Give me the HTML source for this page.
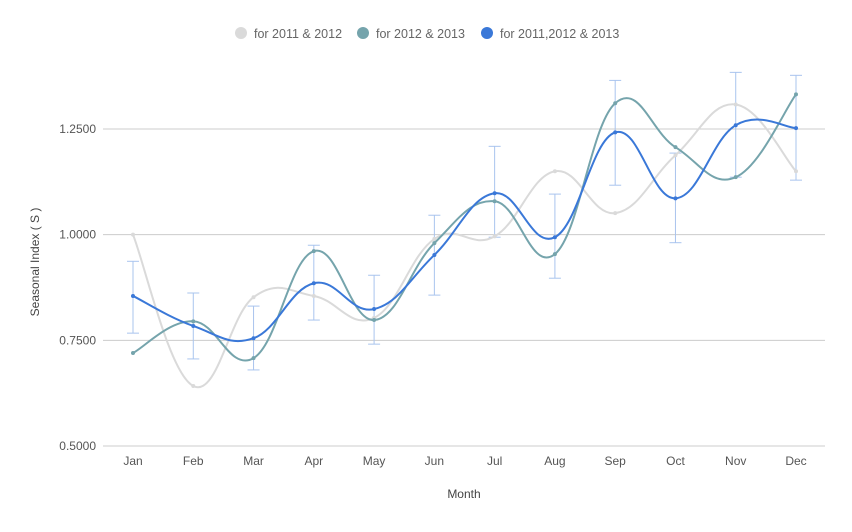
<!DOCTYPE html>
<html><head><meta charset="utf-8"><style>
body{margin:0;background:#fff;font-family:"Liberation Sans",Arial,sans-serif}
svg text{font-family:"Liberation Sans",Arial,sans-serif}
</style></head><body>
<svg id="chart" width="852" height="527" xmlns="http://www.w3.org/2000/svg">
<g id="grid"></g>
<g id="yticks"></g>
<g id="xticks"></g>
<g id="errs"></g>
<g id="series"></g>
<g>
<g><circle cx="241" cy="33" r="6" fill="#dadada"/><text x="254" y="38" font-size="12.5" fill="#666">for 2011 &amp; 2012</text></g>
<g><circle cx="363" cy="33" r="6" fill="#75a4ac"/><text x="376" y="38" font-size="12.5" fill="#666">for 2012 &amp; 2013</text></g>
<g><circle cx="487" cy="33" r="6" fill="#3a78d8"/><text x="500" y="38" font-size="12.5" fill="#666">for 2011,2012 &amp; 2013</text></g>
</g>
<text transform="translate(39,262) rotate(-90)" text-anchor="middle" font-size="12" fill="#444">Seasonal Index ( S )</text>
<text x="464" y="498" text-anchor="middle" font-size="12" fill="#444">Month</text>
</svg>
<script>
const months=["Jan","Feb","Mar","Apr","May","Jun","Jul","Aug","Sep","Oct","Nov","Dec"];
const yTicks=[0.5,0.75,1.0,1.25];
const s2011_2012=[1.0,0.642,0.852,0.855,0.803,0.99,0.996,1.15,1.051,1.188,1.308,1.15];
const s2012_2013=[0.72,0.795,0.708,0.961,0.798,0.98,1.079,0.954,1.311,1.207,1.136,1.332];
const sAll=[0.855,0.784,0.755,0.885,0.824,0.952,1.098,0.994,1.242,1.086,1.259,1.252];
const errLow=[0.767,0.706,0.68,0.798,0.741,0.857,0.994,0.897,1.117,0.981,1.136,1.129];
const errHigh=[0.937,0.862,0.831,0.975,0.904,1.046,1.209,1.096,1.365,1.193,1.384,1.377];
const NS="http://www.w3.org/2000/svg";
const xs=i=>133+i*(796-133)/11;
const ys=v=>446-(v-0.5)*(446-129)/0.75;
function mk(tag,attrs,parent){const e=document.createElementNS(NS,tag);for(const k in attrs)e.setAttribute(k,attrs[k]);parent.appendChild(e);return e;}
const grid=document.getElementById('grid'),yt=document.getElementById('yticks'),xt=document.getElementById('xticks');
yTicks.forEach(v=>{
 const l=mk('line',{x1:103,x2:825,y1:ys(v),y2:ys(v),stroke:'#cccccc','stroke-width':1},grid);
 
 
 const t=mk('text',{x:96,y:ys(v)+4,'text-anchor':'end','font-size':12,fill:'#555'},yt);
 t.textContent=v.toFixed(4);
 
 
});
months.forEach((m,i)=>{
 const t=mk('text',{x:xs(i),y:465,'text-anchor':'middle','font-size':12,fill:'#555'},xt);
 t.textContent=m;
 
 
});
const eg=document.getElementById('errs');
months.forEach((m,i)=>{
 const g=mk('g',{stroke:'#a9c4ee','stroke-width':1,fill:'none'},eg);
 
 
 const x=xs(i),a=ys(errLow[i]),b=ys(errHigh[i]);
 mk('line',{x1:x,x2:x,y1:a,y2:b},g);
 mk('line',{x1:x-6,x2:x+6,y1:a,y2:a},g);
 mk('line',{x1:x-6,x2:x+6,y1:b,y2:b},g);
});
function path(vals){
 const p=vals.map((v,i)=>[xs(i),ys(v)]);let d=`M${p[0][0]},${p[0][1]}`;
 for(let i=0;i<p.length-1;i++){
  const p0=p[Math.max(0,i-1)],p1=p[i],p2=p[i+1],p3=p[Math.min(p.length-1,i+2)];
  const t=0.2;
  d+=` C${p1[0]+(p2[0]-p0[0])*t},${p1[1]+(p2[1]-p0[1])*t} ${p2[0]-(p3[0]-p1[0])*t},${p2[1]-(p3[1]-p1[1])*t} ${p2[0]},${p2[1]}`;
 }
 return d;
}
const sg=document.getElementById('series');
[[s2011_2012,'#dadada','series-2011-2012'],[s2012_2013,'#75a4ac','series-2012-2013'],[sAll,'#3a78d8','series-2011-2012-2013']].forEach(([vals,c,n])=>{
 const g=mk('g',{},sg);
 
 
 mk('path',{d:path(vals),stroke:c,'stroke-width':2,fill:'none'},g);
 vals.forEach((v,i)=>{
  const pt=mk('circle',{cx:xs(i),cy:ys(v),r:2,fill:c},g);
  
  
 });
});
</script>
</body></html>
